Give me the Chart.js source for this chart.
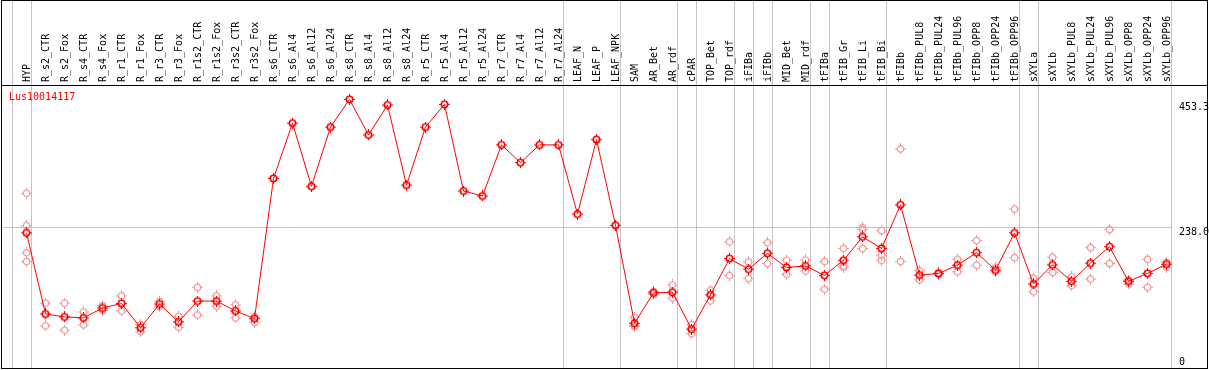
<!DOCTYPE html>
<html>
<head>
<meta charset="utf-8">
<script src="https://cdn.jsdelivr.net/npm/chart.js@4.4.1/dist/chart.umd.min.js"></script>
<style>
  body { margin: 0; background: #fff; }
</style>
</head>
<body>
<canvas id="chart" width="1209" height="370"></canvas>
<script>
const geneName = 'Lus10014117';

const categories = [
    'HYP', 'R_s2_CTR', 'R_s2_Fox', 'R_s4_CTR', 'R_s4_Fox', 'R_r1_CTR', 'R_r1_Fox',
    'R_r3_CTR', 'R_r3_Fox', 'R_r1s2_CTR', 'R_r1s2_Fox', 'R_r3s2_CTR', 'R_r3s2_Fox',
    'R_s6_CTR', 'R_s6_Al4', 'R_s6_Al12', 'R_s6_Al24', 'R_s8_CTR', 'R_s8_Al4', 'R_s8_Al12', 'R_s8_Al24',
    'R_r5_CTR', 'R_r5_Al4', 'R_r5_Al12', 'R_r5_Al24', 'R_r7_CTR', 'R_r7_Al4', 'R_r7_Al12', 'R_r7_Al24',
    'LEAF_N', 'LEAF_P', 'LEAF_NPK', 'SAM', 'AR_Bet', 'AR_rdf', 'cPAR', 'TOP_Bet', 'TOP_rdf',
    'iFIBa', 'iFIBb', 'MID_Bet', 'MID_rdf', 'tFIBa', 'tFIB_Gr', 'tFIB_Li', 'tFIB_Bi', 'tFIBb',
    'tFIBb_PUL8', 'tFIBb_PUL24', 'tFIBb_PUL96', 'tFIBb_OPP8', 'tFIBb_OPP24', 'tFIBb_OPP96',
    'sXYLa', 'sXYLb', 'sXYLb_PUL8', 'sXYLb_PUL24', 'sXYLb_PUL96', 'sXYLb_OPP8', 'sXYLb_OPP24', 'sXYLb_OPP96'
];

// mean expression per sample
const means = [
    229.7, 93.9, 88.9, 87.3, 103.8, 111.5, 70.7, 110.5, 80.7, 115.4, 115.4, 98.9, 86.1,
    320.8, 413.5, 307.6, 406.9, 453.3, 393.7, 443.9, 309.7,
    406.9, 445.0, 299.8, 291.5, 377.1, 347.3, 377.1, 377.1,
    261.2, 385.9, 242.3, 78.3, 129.2, 130.3, 68.4, 125.9, 186.7,
    168.9, 195.4, 171.7, 174.4, 158.5, 183.8, 223.1, 203.7, 276.6,
    159.0, 161.8, 175.6, 196.6, 167.3, 229.7,
    144.1, 176.1, 148.6, 178.9, 206.5, 148.6, 161.8, 177.2
];

// single replicates (pale circles), same order as categories
const replicates = [
    [296.0, 241.8, 196.6, 181.7], [112.1, 74.0], [112.1, 66.7], [97.2, 75.7], [108.1, 99.9],
    [124.2, 98.9], [76.2, 64.1], [114.8, 106.5], [89.9, 71.7], [138.6, 92.2], [124.2, 106.5],
    [109.3, 87.3], [89.4, 79.5],
    [], [], [], [], [], [], [], [], [], [], [], [], [], [], [], [],
    [], [], [],
    [88.3, 74.0, 72.6], [131.5, 127.0], [142.4, 120.4], [76.2, 60.8], [133.7, 115.9], [214.8, 158.5],
    [181.0, 153.5], [213.2, 178.4], [183.8, 160.2], [184.3, 166.1], [181.7, 135.3],
    [203.7, 174.4, 172.2], [239.0, 235.2, 203.7], [233.5, 192.6, 183.8], [370.5, 181.7],
    [166.1, 151.2], [160.8, 162.6], [185.5, 164.5], [217.0, 175.6], [171.7, 164.5], [269.5, 188.3],
    [154.0, 131.3], [188.8, 163.5], [156.2, 141.3], [204.9, 152.4], [235.2, 178.4],
    [150.7, 144.1], [185.5, 138.6], [180.5, 172.2]
];

const yTickValues = [453.3, 238.0, 0];
const yTickLabels = ['453.3', '238.0', '0'];

// group separators are drawn right after these category indices
const groupEnds = [-1, 0, 28, 31, 34, 35, 37, 38, 39, 41, 42, 45, 52, 53, 60];

const yMax = 477.4;
const monoFont = { family: "'DejaVu Sans Mono', monospace", size: 10 };
const fontCss = "10px 'DejaVu Sans Mono', monospace";
const gridGray = '#c4c4c4';

function makeMarker(color, lw) {
    const c = document.createElement('canvas');
    c.width = 11;
    c.height = 11;
    const g = c.getContext('2d');
    g.strokeStyle = color;
    g.lineWidth = lw;
    g.beginPath();
    g.arc(5.5, 5.5, 3.2, 0, Math.PI * 2);
    g.stroke();
    g.fillStyle = color;
    g.fillRect(5, 0, 1, 2);
    g.fillRect(5, 9, 1, 2);
    g.fillRect(0, 5, 2, 1);
    g.fillRect(9, 5, 2, 1);
    return c;
}

const mainMarker = makeMarker('#ff0000', 1.6);
const repMarker = makeMarker('#f09a9a', 1.2);

const repPoints = replicates.flatMap((vals, i) => vals.map(v => ({ x: categories[i], y: v })));

const measureCtx = document.createElement('canvas').getContext('2d');
measureCtx.font = fontCss;

// one y axis per tick label, so each label can sit where the original puts it.
// mirrored + right aligned: x = axis left + padding, so padding = gap + text width
function tickAxis(value, offset) {
    const label = yTickLabels[yTickValues.indexOf(value)];
    return {
        position: 'right',
        min: 0,
        max: yMax,
        afterBuildTicks: s => { s.ticks = [{ value: value }]; },
        afterFit: s => {
            s.width = 0;
            s.paddingTop = 0;
            s.paddingBottom = 0;
        },
        grid: { display: false, drawTicks: false },
        border: { display: false },
        ticks: {
            font: monoFont,
            color: '#000',
            mirror: true,
            crossAlign: 'near',
            padding: 3 + measureCtx.measureText(label).width,
            labelOffset: offset,
            callback: () => label
        }
    };
}

const framePlugin = {
    id: 'frame',
    beforeDatasetsDraw(chart) {
        const c = chart.ctx;
        const x = chart.scales.x;
        const y = chart.scales.y;
        const x0 = x.getPixelForValue(0);
        const step = x.getPixelForValue(1) - x0;
        c.save();
        c.strokeStyle = gridGray;
        c.lineWidth = 1;
        c.beginPath();
        groupEnds.forEach(i => {
            const px = Math.floor(x0 + i * step + 5) + 0.5;
            c.moveTo(px, 0);
            c.lineTo(px, 368);
        });
        const gy = Math.floor(y.getPixelForValue(yTickValues[1])) + 0.5;
        c.moveTo(2, gy);
        c.lineTo(Math.floor(x0 + 60 * step + 5), gy);
        c.stroke();
        c.restore();
    },
    afterDraw(chart) {
        const c = chart.ctx;
        c.save();
        c.strokeStyle = '#000';
        c.lineWidth = 1;
        c.strokeRect(1.5, 0.5, 1206, 368);
        c.beginPath();
        c.moveTo(1, 85.5);
        c.lineTo(1208, 85.5);
        c.stroke();
        c.fillStyle = '#ff0000';
        c.font = fontCss;
        c.textBaseline = 'top';
        c.fillText(geneName, 9, 92);
        c.restore();
    }
};

new Chart(document.getElementById('chart').getContext('2d'), {
    type: 'line',
    data: {
        labels: categories,
        datasets: [
            {
                label: geneName,
                data: means,
                borderColor: '#ff0000',
                borderWidth: 1,
                pointStyle: mainMarker,
                pointRadius: 4,
                fill: false,
                tension: 0,
                order: 0
            },
            {
                label: 'replicates',
                data: repPoints,
                showLine: false,
                pointStyle: repMarker,
                pointRadius: 4,
                order: 1
            }
        ]
    },
    options: {
        responsive: false,
        animation: false,
        devicePixelRatio: 1,
        layout: { autoPadding: false, padding: { left: 17, right: 33, top: 0, bottom: 0 } },
        plugins: {
            legend: { display: false },
            tooltip: { enabled: false },
            title: { display: false }
        },
        scales: {
            x: {
                type: 'category',
                position: 'top',
                offset: true,
                afterFit: s => { s.height = 85; },
                grid: { display: false, drawTicks: false },
                border: { display: false },
                ticks: {
                    font: monoFont,
                    color: '#000',
                    autoSkip: false,
                    minRotation: 90,
                    maxRotation: 90,
                    padding: 3,
                    labelOffset: 12.5
                }
            },
            y: tickAxis(453.3, 7.6),
            yMid: tickAxis(238.0, 4.6),
            yZero: tickAxis(0, -7.5)
        }
    },
    plugins: [framePlugin]
});
</script>
</body>
</html>
